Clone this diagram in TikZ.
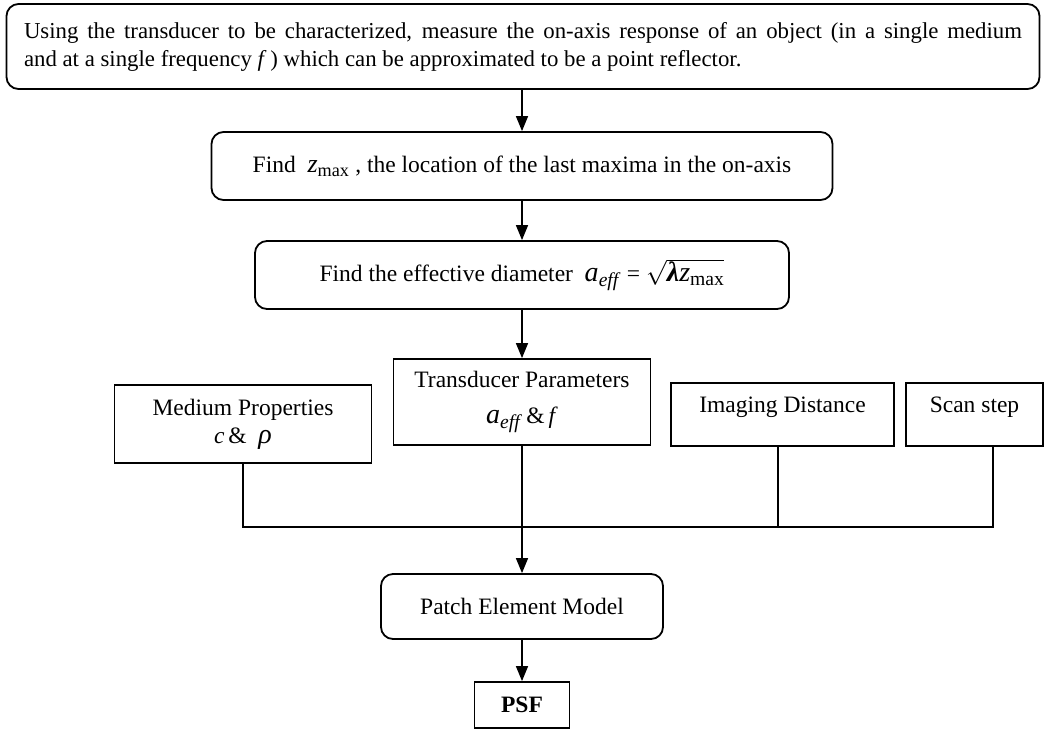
\documentclass[tikz,border=0pt]{standalone}
\usepackage{fontspec}
\setmainfont{Liberation Serif}
\usetikzlibrary{arrows.meta,calc}
\newcommand{\aeff}{\textit{a}\textsubscript{\textit{eff}}}
\newcommand{\zmx}{\textit{z}\textsubscript{max}}
\begin{document}
\begin{tikzpicture}[x=1pt,y=-1pt,
  rbox/.style={draw, line width=1.8pt, rounded corners=12pt, inner sep=0pt},
  sbox/.style={draw, line width=1.8pt, inner sep=0pt},
  conn/.style={line width=1.4pt},
  arr/.style={line width=1.4pt, -{Triangle[length=15pt,width=12pt]}},
  txt/.style={font=\fontsize{23.5}{28}\selectfont}]
\useasboundingbox (0,0) rectangle (1046,729);
\fill[white] (0,0) rectangle (1046,729);

\node[rbox, font=\fontsize{22.8}{28}\selectfont, minimum width=1033pt, minimum height=85pt, text width=998pt, align=justify] (top) at (523,46.5)
  {Using the transducer to be characterized, measure the on-axis response of an object (in a single medium\linebreak
   and at a single frequency \textit{f}\,) which can be approximated to be a point reflector.};

\node[rbox, txt, minimum width=621pt, minimum height=68pt] (zmax) at (522,166)
  {Find \ {\fontsize{26}{30}\selectfont\zmx}\ , the location of the last maxima in the on-axis};

\node[rbox, txt, minimum width=534pt, minimum height=68pt] (eff) at (522,275)
  {Find the effective diameter \ {\fontsize{28}{30}\selectfont\aeff} = $\sqrt{\mbox{\fontsize{28}{30}\selectfont\textbf{\textit{λ}}\zmx}}$};

\node[sbox, txt, minimum width=257pt, minimum height=86pt, align=center] (tp) at (522,402)
  {Transducer Parameters\\[8pt] {\fontsize{28}{30}\selectfont\aeff}\,\&\,\textit{f}};

\node[sbox, txt, minimum width=257pt, minimum height=78pt, align=center] (med) at (243,424)
  {Medium Properties\\ \textit{c}\,\& \ {\fontsize{28}{30}\selectfont\textit{ρ}}};

\node[sbox, txt, minimum width=223pt, minimum height=63pt, text height=16pt, text depth=21pt] (img) at (782.5,414.5)
  {Imaging Distance};

\node[sbox, txt, minimum width=137pt, minimum height=63pt, text height=16pt, text depth=21pt] (scan) at (974.5,414.5)
  {Scan step};

\node[rbox, txt, minimum width=282pt, minimum height=65pt] (patch) at (522,606.5)
  {Patch Element Model};

\node[sbox, txt, font=\fontsize{23.5}{28}\selectfont\bfseries, minimum width=95pt, minimum height=46pt] (psf) at (522,705)
  {PSF};

\coordinate (busL) at (243,527);
\coordinate (busI) at (778,527);
\coordinate (busR) at (993,527);

\draw[arr] (zmax.north |- top.south) -- (zmax.north);
\draw[arr] (zmax.south) -- (eff.north);
\draw[arr] (eff.south) -- (tp.north);
\draw[arr] (tp.south) -- (patch.north);
\draw[arr] (patch.south) -- (psf.north);

\draw[conn] (med.south) -- (busL) -- (busR) -- (scan.south -| busR);
\draw[conn] (img.south -| busI) -- (busI);
\end{tikzpicture}
\end{document}
